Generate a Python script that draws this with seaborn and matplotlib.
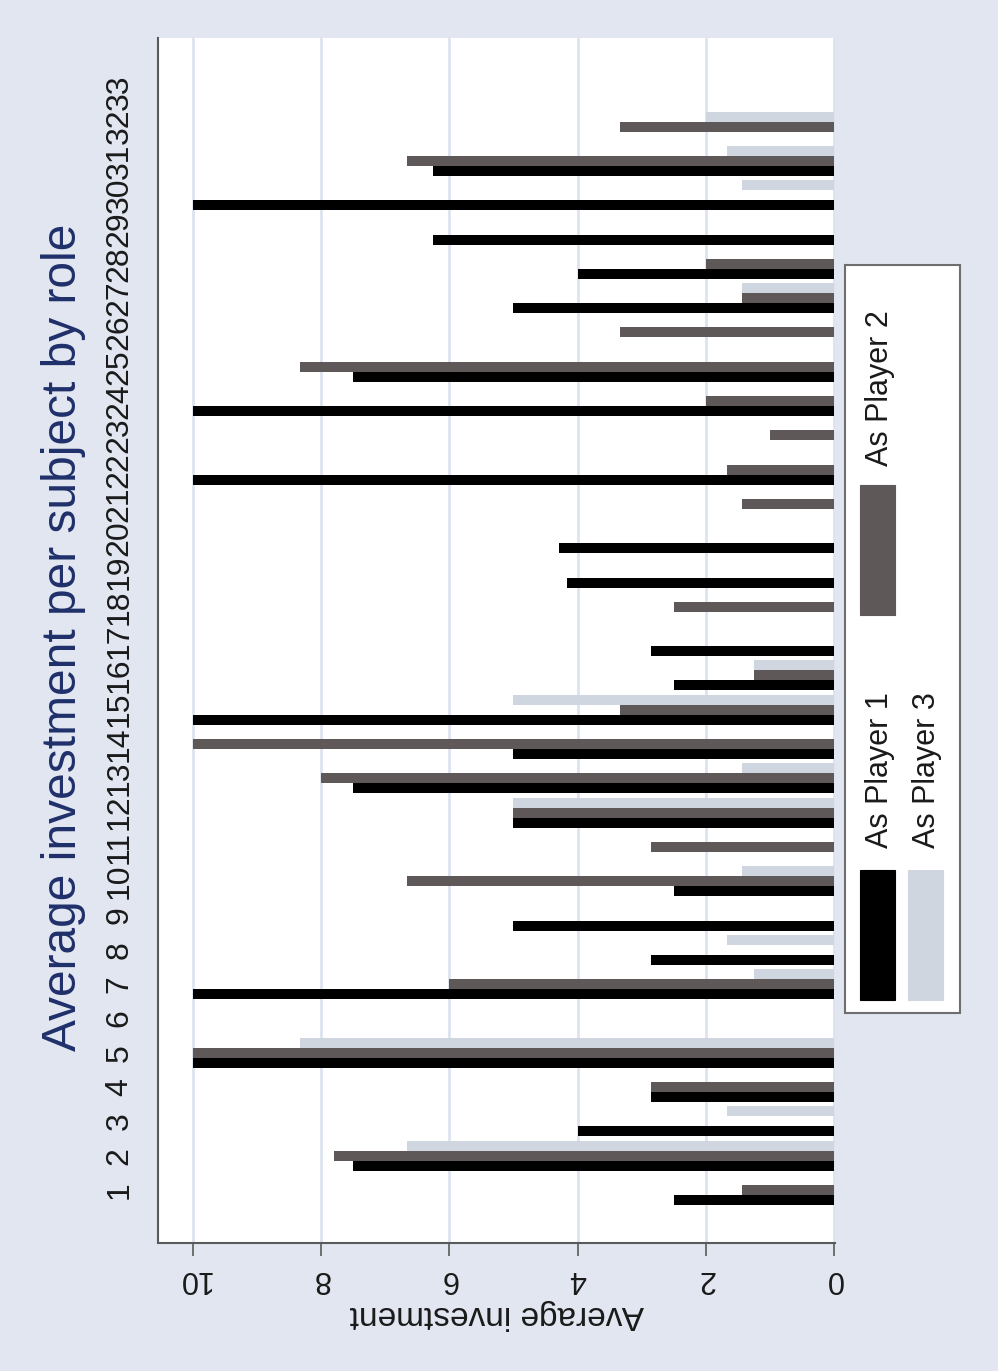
import numpy as np
import pandas as pd
import matplotlib
matplotlib.use("Agg")
import matplotlib.pyplot as plt
import seaborn as sns
from matplotlib.patches import Rectangle

# Average investment per subject, split by the role the subject played
subjects = [str(i) for i in range(1, 34)]
roles = ["As Player 1", "As Player 2", "As Player 3"]

player1 = [2.5, 7.5, 4.0, 2.86, 10.0, 0.0, 10.0, 2.86, 5.0, 2.5,
           0.0, 5.0, 7.5, 5.0, 10.0, 2.5, 2.86, 0.0, 4.17, 4.29,
           0.0, 10.0, 0.0, 10.0, 7.5, 0.0, 5.0, 4.0, 6.25, 10.0,
           6.25, 0.0, 0.0]
player2 = [1.43, 7.8, 0.0, 2.86, 10.0, 0.0, 6.0, 0.0, 0.0, 6.67,
           2.86, 5.0, 8.0, 10.0, 3.33, 1.25, 0.0, 2.5, 0.0, 0.0,
           1.43, 1.67, 1.0, 2.0, 8.33, 3.33, 1.43, 2.0, 0.0, 0.0,
           6.67, 3.33, 0.0]
player3 = [0.0, 6.67, 1.67, 0.0, 8.33, 0.0, 1.25, 1.67, 0.0, 1.43,
           0.0, 5.0, 1.43, 0.0, 5.0, 1.25, 0.0, 0.0, 0.0, 0.0,
           0.0, 0.0, 0.0, 0.0, 0.0, 0.0, 1.43, 0.0, 0.0, 1.43,
           1.67, 2.0, 0.0]

value_ticks = [0, 2, 4, 6, 8, 10]
role_colors = ["#000000", "#5e5858", "#d0d6df"]

df = pd.DataFrame({
    "subject": subjects * 3,
    "role": np.repeat(roles, len(subjects)),
    "investment": player1 + player2 + player3,
})

sns.set_theme(style="white")
plt.rcParams["font.family"] = ["Liberation Sans", "DejaVu Sans"]

BG = "#e1e6f0"
fig = plt.figure(figsize=(9.98, 13.71), dpi=100, facecolor=BG)
ax = fig.add_axes([0.1583, 0.0934, 0.6784, 0.8789])
ax.set_facecolor("white")

sns.barplot(data=df, x="investment", y="subject", hue="role",
            order=subjects, hue_order=roles, palette=role_colors,
            orient="h", width=0.875, errorbar=None, linewidth=0,
            saturation=1, legend=False, ax=ax, zorder=3)

# categories run upward, values run leftward from zero
ax.set_ylim(-1.545, 33.585)
ax.set_xlim(10.55, -0.02)

ax.grid(axis="x", color="#dde3ee", linewidth=2)
ax.grid(axis="y", visible=False)
ax.set_axisbelow(True)

for side in ("top", "right"):
    ax.spines[side].set_visible(False)
for side in ("left", "bottom"):
    ax.spines[side].set_color("#5a5a5a")
    ax.spines[side].set_linewidth(1.5)

ax.set_xticks(value_ticks)
ax.set_xticklabels([str(v) for v in value_ticks])
ax.tick_params(axis="x", bottom=True, length=9, width=1.2, color="#5a5a5a",
               labelsize=22, labelrotation=180, pad=6, labelcolor="#1a1a1a")
ax.set_yticks(range(len(subjects)))
ax.set_yticklabels(subjects, rotation=90, va="center", ha="right")
ax.tick_params(axis="y", left=False, length=0, pad=17, labelsize=23,
               labelcolor="#1a1a1a")

ax.set_ylabel("")
ax.set_xlabel("Average investment", rotation=180, fontsize=24,
              color="#1a1a1a", labelpad=4)

fig.text(0.064, 0.535, "Average investment per subject by role",
         rotation=90, ha="center", va="center", fontsize=34.5, color="#1f2f6a")

# legend box, drawn upright along the right margin
fig.patches.append(Rectangle((0.8467, 0.2611), 0.1152, 0.5456,
                             transform=fig.transFigure, facecolor="white",
                             edgecolor="#6e6e6e", linewidth=1.5, zorder=1))
key_w, key_h = 0.0351, 0.0948
keys = [
    (0.8617, 0.2706, role_colors[0], 0.8818, 0.3815, roles[0]),
    (0.9098, 0.2706, role_colors[2], 0.9289, 0.3815, roles[2]),
    (0.8617, 0.5514, role_colors[1], 0.8818, 0.6601, roles[1]),
]
for kx, ky, kc, tx, ty, label in keys:
    fig.patches.append(Rectangle((kx, ky), key_w, key_h,
                                 transform=fig.transFigure, facecolor=kc,
                                 edgecolor=kc, linewidth=0.8, zorder=2))
    fig.text(tx, ty, label, rotation=90, ha="center", va="bottom",
             fontsize=22, color="#1a1a1a")

fig.savefig("out.png", dpi=100, facecolor=BG)
